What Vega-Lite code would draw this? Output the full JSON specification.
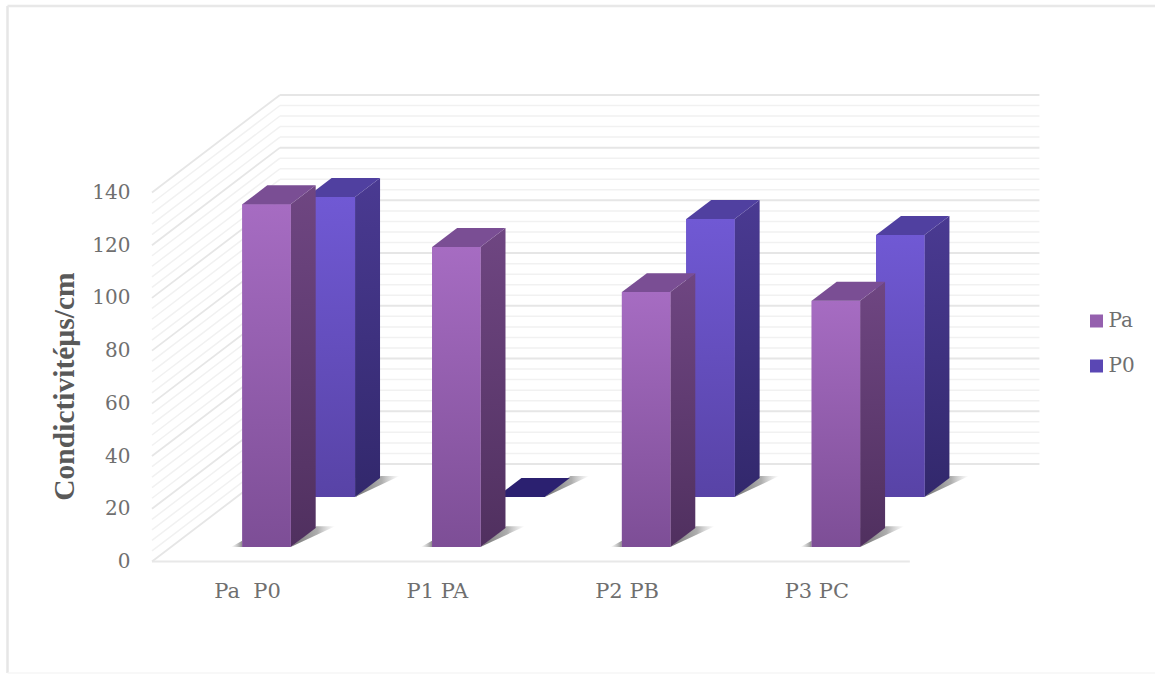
{
  "$schema": "https://vega.github.io/schema/vega-lite/v6.json",
  "width": 1147.5,
  "height": 667,
  "autosize": "none",
  "padding": {"left": 7.5, "top": 6, "right": 0, "bottom": 2},
  "background": "white",
  "config": {"view": {"stroke": null}},
  "datasets": {
    "bars": [
      {"category": "Pa P0", "series": "Pa", "value": 130},
      {"category": "P1 PA", "series": "Pa", "value": 113.8},
      {"category": "P2 PB", "series": "Pa", "value": 96.7},
      {"category": "P3 PC", "series": "Pa", "value": 93.4},
      {"category": "Pa P0", "series": "P0", "value": 113.8},
      {"category": "P1 PA", "series": "P0", "value": 0},
      {"category": "P2 PB", "series": "P0", "value": 105.5},
      {"category": "P3 PC", "series": "P0", "value": 99.4}
    ],
    "levels": [
      {"v": 0}, {"v": 4}, {"v": 8}, {"v": 12}, {"v": 16}, {"v": 20}, {"v": 24}, {"v": 28}, {"v": 32},
      {"v": 36}, {"v": 40}, {"v": 44}, {"v": 48}, {"v": 52}, {"v": 56}, {"v": 60}, {"v": 64}, {"v": 68},
      {"v": 72}, {"v": 76}, {"v": 80}, {"v": 84}, {"v": 88}, {"v": 92}, {"v": 96}, {"v": 100}, {"v": 104},
      {"v": 108}, {"v": 112}, {"v": 116}, {"v": 120}, {"v": 124}, {"v": 128}, {"v": 132}, {"v": 136}, {"v": 140}
    ],
    "single": [{}]
  },
  "params": [
    {"name": "barW", "value": 0.255},
    {"name": "depthX", "value": 0.1317},
    {"name": "depthY", "value": 7.2},
    {"name": "rowX", "value": 0.339},
    {"name": "rowY", "value": 18.97},
    {"name": "floorY", "value": 5.5},
    {"name": "wallX", "value": -0.4758},
    {"name": "wallDX", "value": 0.6744},
    {"name": "wallDY", "value": 37},
    {"name": "xMin", "value": -1.2371},
    {"name": "xMax", "value": 4.8088},
    {"name": "yMin", "value": -42.3},
    {"name": "yMax", "value": 210.74}
  ],
  "encoding": {
    "x": {
      "field": "px",
      "type": "quantitative",
      "scale": {"domain": [-1.2371, 4.8088], "nice": false, "zero": false},
      "axis": {
        "title": null,
        "values": [0, 1, 2, 3],
        "labelExpr": "['Pa\u00a0\u00a0P0', 'P1\u00a0PA', 'P2\u00a0PB', 'P3\u00a0PC'][round(datum.value)]",
        "grid": false,
        "domain": false,
        "ticks": false,
        "offset": -95,
        "labelPadding": 2,
        "labelOffset": 4.7,
        "labelFont": "DejaVu Serif",
        "labelFontSize": 21,
        "labelColor": "#6f6f6f"
      }
    },
    "y": {
      "field": "py",
      "type": "quantitative",
      "scale": {"domain": [-42.3, 210.74], "nice": false, "zero": false},
      "axis": {
        "title": "Condictivitéµs/cm",
        "values": [0, 20, 40, 60, 80, 100, 120, 140],
        "grid": false,
        "domain": false,
        "ticks": false,
        "offset": -127.5,
        "labelPadding": 5,
        "labelFont": "DejaVu Serif",
        "labelFontSize": 20,
        "labelColor": "#6f6f6f",
        "titleFont": "Liberation Serif",
        "titleFontWeight": "bold",
        "titleFontSize": 29.5,
        "titleColor": "#595959",
        "titleX": -56,
        "titleY": 380,
        "titleAngle": -90
      }
    }
  },
  "layer": [
    {
      "description": "Outer frame, left edge",
      "data": {"name": "single"},
      "transform": [
        {"calculate": "xMin", "as": "px"},
        {"calculate": "yMin", "as": "py"},
        {"calculate": "yMax", "as": "py2"}
      ],
      "mark": {"type": "rule", "stroke": "#e6e6e6", "strokeWidth": 2.5},
      "encoding": {"y2": {"field": "py2"}}
    },
    {
      "description": "Outer frame, top edge",
      "data": {"name": "single"},
      "transform": [
        {"calculate": "xMin", "as": "px"},
        {"calculate": "xMax", "as": "px2"},
        {"calculate": "yMax", "as": "py"}
      ],
      "mark": {"type": "rule", "stroke": "#e8e8e8", "strokeWidth": 2.5},
      "encoding": {"x2": {"field": "px2"}}
    },
    {
      "description": "Outer frame, bottom edge",
      "data": {"name": "single"},
      "transform": [
        {"calculate": "xMin", "as": "px"},
        {"calculate": "xMax", "as": "px2"},
        {"calculate": "yMin", "as": "py"}
      ],
      "mark": {"type": "rule", "stroke": "#f6f6f6", "strokeWidth": 1.5},
      "encoding": {"x2": {"field": "px2"}}
    },
    {
      "description": "Floor front edge",
      "data": {"name": "single"},
      "transform": [
        {"calculate": "wallX", "as": "px"},
        {"calculate": "3.5173", "as": "px2"},
        {"calculate": "0", "as": "py"}
      ],
      "mark": {"type": "rule", "stroke": "#e8e8e8", "strokeWidth": 2},
      "encoding": {"x2": {"field": "px2"}}
    },
    {
      "description": "Side wall gridlines",
      "data": {"name": "levels"},
      "transform": [
        {"calculate": "wallX", "as": "px"},
        {"calculate": "wallX + wallDX", "as": "px2"},
        {"calculate": "datum.v", "as": "py"},
        {"calculate": "datum.v + wallDY", "as": "py2"}
      ],
      "mark": {"type": "rule"},
      "encoding": {
        "x2": {"field": "px2"},
        "y2": {"field": "py2"},
        "stroke": {"condition": {"test": "datum.v % 20 === 0", "value": "#e6e6e6"}, "value": "#f1f1f1"},
        "strokeWidth": {"condition": {"test": "datum.v % 20 === 0", "value": 1.8}, "value": 1.5}
      }
    },
    {
      "description": "Back wall gridlines",
      "data": {"name": "levels"},
      "transform": [
        {"calculate": "wallX + wallDX", "as": "px"},
        {"calculate": "4.2", "as": "px2"},
        {"calculate": "datum.v + wallDY", "as": "py"}
      ],
      "mark": {"type": "rule"},
      "encoding": {
        "x2": {"field": "px2"},
        "stroke": {"condition": {"test": "datum.v % 20 === 0", "value": "#e6e6e6"}, "value": "#f1f1f1"},
        "strokeWidth": {"condition": {"test": "datum.v % 20 === 0", "value": 2}, "value": 1.5}
      }
    },
    {
      "description": "Floor shadows to the right of each bar",
      "data": {"name": "bars"},
      "transform": [
        {"calculate": "indexof(['Pa P0','P1 PA','P2 PB','P3 PC'], datum.category) + (datum.series === 'P0' ? rowX : 0)", "as": "x0"},
        {"calculate": "floorY + (datum.series === 'P0' ? rowY : 0)", "as": "yb"},
        {"calculate": "[0, 1]", "as": "t"},
        {"flatten": ["t"]},
        {"calculate": "datum.x0 + barW + datum.t * depthX * 1.02", "as": "px"},
        {"calculate": "datum.px + datum.t * 0.1", "as": "px2"},
        {"calculate": "datum.yb + datum.t * depthY * 1.1", "as": "py"}
      ],
      "mark": {
        "type": "area",
        "orient": "horizontal",
        "fill": {
          "gradient": "linear", "x1": 0, "y1": 0, "x2": 1, "y2": 0,
          "stops": [
            {"offset": 0, "color": "rgba(90,90,90,0.85)"},
            {"offset": 0.6, "color": "rgba(120,120,120,0.6)"},
            {"offset": 1, "color": "rgba(160,160,160,0)"}
          ]
        }
      },
      "encoding": {
        "x2": {"field": "px2"},
        "detail": [{"field": "category"}, {"field": "series"}]
      }
    },
    {
      "description": "Floor shadows to the left of the front row",
      "data": {"name": "bars"},
      "transform": [
        {"filter": "datum.series === 'Pa'"},
        {"calculate": "indexof(['Pa P0','P1 PA','P2 PB','P3 PC'], datum.category)", "as": "x0"},
        {"calculate": "[0, 1]", "as": "t"},
        {"flatten": ["t"]},
        {"calculate": "datum.x0 - (1 - datum.t) * 0.06", "as": "px"},
        {"calculate": "datum.x0", "as": "px2"},
        {"calculate": "floorY + datum.t * 2.4", "as": "py"}
      ],
      "mark": {
        "type": "area",
        "orient": "horizontal",
        "fill": {
          "gradient": "linear", "x1": 1, "y1": 0, "x2": 0, "y2": 0,
          "stops": [
            {"offset": 0, "color": "rgba(110,110,110,0.8)"},
            {"offset": 1, "color": "rgba(160,160,160,0)"}
          ]
        }
      },
      "encoding": {
        "x2": {"field": "px2"},
        "detail": {"field": "category"}
      }
    },
    {
      "description": "Back row: side faces",
      "data": {"name": "bars"},
      "transform": [
        {"filter": "datum.series === 'P0' && datum.value > 0"},
        {"calculate": "indexof(['Pa P0','P1 PA','P2 PB','P3 PC'], datum.category) + rowX + barW", "as": "x1"},
        {"calculate": "[0, 1]", "as": "t"},
        {"flatten": ["t"]},
        {"calculate": "datum.x1 + datum.t * depthX", "as": "px"},
        {"calculate": "floorY + rowY + datum.value + datum.t * depthY", "as": "py"},
        {"calculate": "floorY + rowY + datum.t * depthY", "as": "py2"}
      ],
      "mark": {
        "type": "area",
        "orient": "vertical",
        "fill": {
          "gradient": "linear", "x1": 0, "y1": 0, "x2": 0, "y2": 1,
          "stops": [{"offset": 0, "color": "#4a3a92"}, {"offset": 1, "color": "#32286c"}]
        }
      },
      "encoding": {
        "y2": {"field": "py2"},
        "detail": {"field": "category"}
      }
    },
    {
      "description": "Back row: solid front faces, these carry the legend colours",
      "data": {"name": "bars"},
      "transform": [
        {"filter": "datum.series === 'P0' && datum.value > 0"},
        {"calculate": "indexof(['Pa P0','P1 PA','P2 PB','P3 PC'], datum.category) + rowX", "as": "px"},
        {"calculate": "datum.px + barW", "as": "px2"},
        {"calculate": "floorY + rowY + datum.value", "as": "py"},
        {"calculate": "floorY + rowY", "as": "py2"}
      ],
      "mark": {"type": "rect"},
      "encoding": {
        "x2": {"field": "px2"},
        "y2": {"field": "py2"},
        "color": {
          "field": "series",
          "type": "nominal",
          "scale": {"domain": ["Pa", "P0"], "range": ["#9560ae", "#5a47b4"]},
          "legend": {
            "title": null,
            "orient": "none",
            "legendX": 1079,
            "legendY": 305,
            "symbolType": "square",
            "symbolSize": 169,
            "symbolStrokeWidth": 0,
            "labelFont": "DejaVu Serif",
            "labelFontSize": 20,
            "labelColor": "#6f6f6f",
            "rowPadding": 25,
            "labelOffset": 2
          }
        }
      }
    },
    {
      "description": "Back row: shaded front faces",
      "data": {"name": "bars"},
      "transform": [
        {"filter": "datum.series === 'P0' && datum.value > 0"},
        {"calculate": "indexof(['Pa P0','P1 PA','P2 PB','P3 PC'], datum.category) + rowX", "as": "px"},
        {"calculate": "datum.px + barW", "as": "px2"},
        {"calculate": "floorY + rowY + datum.value", "as": "py"},
        {"calculate": "floorY + rowY", "as": "py2"}
      ],
      "mark": {
        "type": "rect",
        "fill": {
          "gradient": "linear", "x1": 0, "y1": 0, "x2": 0, "y2": 1,
          "stops": [{"offset": 0, "color": "#7059d4"}, {"offset": 1, "color": "#5843a6"}]
        }
      },
      "encoding": {
        "x2": {"field": "px2"},
        "y2": {"field": "py2"}
      }
    },
    {
      "description": "Back row: top faces, the empty bar collapses to a dark plate",
      "data": {"name": "bars"},
      "transform": [
        {"filter": "datum.series === 'P0'"},
        {"calculate": "indexof(['Pa P0','P1 PA','P2 PB','P3 PC'], datum.category) + rowX", "as": "x0"},
        {"calculate": "[0, 1]", "as": "t"},
        {"flatten": ["t"]},
        {"calculate": "datum.x0 + datum.t * depthX", "as": "px"},
        {"calculate": "datum.px + barW", "as": "px2"},
        {"calculate": "floorY + rowY + datum.value + datum.t * depthY", "as": "py"}
      ],
      "mark": {"type": "area", "orient": "horizontal"},
      "encoding": {
        "x2": {"field": "px2"},
        "detail": {"field": "category"},
        "fill": {"condition": {"test": "datum.value === 0", "value": "#2b2070"}, "value": "#5040a0"}
      }
    },
    {
      "description": "Front row: side faces",
      "data": {"name": "bars"},
      "transform": [
        {"filter": "datum.series === 'Pa'"},
        {"calculate": "indexof(['Pa P0','P1 PA','P2 PB','P3 PC'], datum.category) + barW", "as": "x1"},
        {"calculate": "[0, 1]", "as": "t"},
        {"flatten": ["t"]},
        {"calculate": "datum.x1 + datum.t * depthX", "as": "px"},
        {"calculate": "floorY + datum.value + datum.t * depthY", "as": "py"},
        {"calculate": "floorY + datum.t * depthY", "as": "py2"}
      ],
      "mark": {
        "type": "area",
        "orient": "vertical",
        "fill": {
          "gradient": "linear", "x1": 0, "y1": 0, "x2": 0, "y2": 1,
          "stops": [{"offset": 0, "color": "#6f4682"}, {"offset": 1, "color": "#50305f"}]
        }
      },
      "encoding": {
        "y2": {"field": "py2"},
        "detail": {"field": "category"}
      }
    },
    {
      "description": "Front row: solid front faces",
      "data": {"name": "bars"},
      "transform": [
        {"filter": "datum.series === 'Pa'"},
        {"calculate": "indexof(['Pa P0','P1 PA','P2 PB','P3 PC'], datum.category)", "as": "px"},
        {"calculate": "datum.px + barW", "as": "px2"},
        {"calculate": "floorY + datum.value", "as": "py"},
        {"calculate": "floorY", "as": "py2"}
      ],
      "mark": {"type": "rect"},
      "encoding": {
        "x2": {"field": "px2"},
        "y2": {"field": "py2"},
        "color": {"field": "series", "type": "nominal"}
      }
    },
    {
      "description": "Front row: shaded front faces",
      "data": {"name": "bars"},
      "transform": [
        {"filter": "datum.series === 'Pa'"},
        {"calculate": "indexof(['Pa P0','P1 PA','P2 PB','P3 PC'], datum.category)", "as": "px"},
        {"calculate": "datum.px + barW", "as": "px2"},
        {"calculate": "floorY + datum.value", "as": "py"},
        {"calculate": "floorY", "as": "py2"}
      ],
      "mark": {
        "type": "rect",
        "fill": {
          "gradient": "linear", "x1": 0, "y1": 0, "x2": 0, "y2": 1,
          "stops": [{"offset": 0, "color": "#a66cc2"}, {"offset": 1, "color": "#7d4e96"}]
        }
      },
      "encoding": {
        "x2": {"field": "px2"},
        "y2": {"field": "py2"}
      }
    },
    {
      "description": "Front row: top faces",
      "data": {"name": "bars"},
      "transform": [
        {"filter": "datum.series === 'Pa'"},
        {"calculate": "indexof(['Pa P0','P1 PA','P2 PB','P3 PC'], datum.category)", "as": "x0"},
        {"calculate": "[0, 1]", "as": "t"},
        {"flatten": ["t"]},
        {"calculate": "datum.x0 + datum.t * depthX", "as": "px"},
        {"calculate": "datum.px + barW", "as": "px2"},
        {"calculate": "floorY + datum.value + datum.t * depthY", "as": "py"}
      ],
      "mark": {"type": "area", "orient": "horizontal", "fill": "#7a4e94"},
      "encoding": {
        "x2": {"field": "px2"},
        "detail": {"field": "category"}
      }
    }
  ]
}
